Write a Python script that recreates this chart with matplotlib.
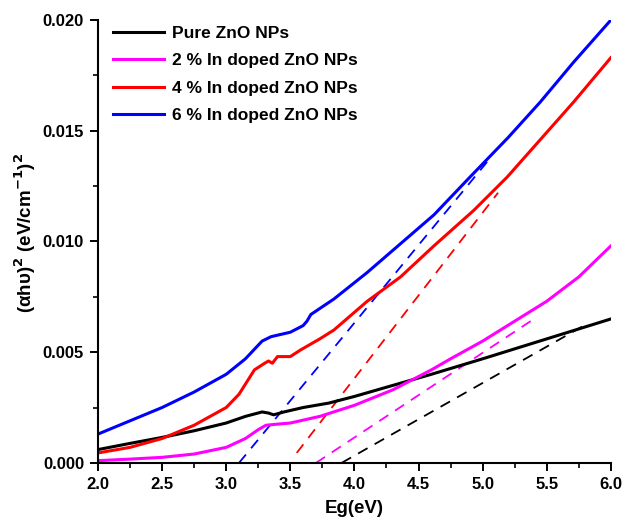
import matplotlib
matplotlib.use("Agg")
import matplotlib.pyplot as plt
from matplotlib.ticker import MultipleLocator, FormatStrFormatter

plt.rcParams['font.family'] = ['Liberation Sans', 'DejaVu Sans']
plt.rcParams['font.weight'] = 'bold'
plt.rcParams['mathtext.default'] = 'bf'

# ---- data ----
labels = ["Pure ZnO NPs", "2 % In doped ZnO NPs", "4 % In doped ZnO NPs", "6 % In doped ZnO NPs"]
colors = ["#000000", "#ff00ff", "#ff0000", "#0000ff"]

pure_x = [2.0, 2.25, 2.5, 2.75, 3.0, 3.15, 3.28, 3.33, 3.37, 3.45, 3.6, 3.8, 4.0, 4.36, 4.6, 5.0, 5.5, 6.0]
pure_y = [0.0006, 0.00088, 0.00115, 0.00145, 0.0018, 0.0021, 0.0023, 0.00225, 0.00217, 0.0023, 0.0025, 0.0027, 0.0030, 0.0036, 0.0040, 0.0047, 0.0056, 0.0065]

in2_x = [2.0, 2.25, 2.5, 2.75, 3.0, 3.15, 3.25, 3.31, 3.4, 3.5, 3.73, 4.0, 4.3, 4.6, 4.75, 5.0, 5.25, 5.5, 5.75, 6.0]
in2_y = [0.0001, 0.00017, 0.00025, 0.0004, 0.0007, 0.0011, 0.0015, 0.0017, 0.00175, 0.0018, 0.0021, 0.0026, 0.0033, 0.0042, 0.0047, 0.0055, 0.0064, 0.0073, 0.0084, 0.0098]

in4_x = [2.0, 2.25, 2.5, 2.75, 3.0, 3.1, 3.22, 3.3, 3.33, 3.36, 3.4, 3.5, 3.58, 3.73, 3.84, 4.1, 4.36, 4.62, 4.93, 5.19, 5.45, 5.71, 6.0]
in4_y = [0.00045, 0.0007, 0.0011, 0.0017, 0.0025, 0.0031, 0.0042, 0.0045, 0.0046, 0.0045, 0.0048, 0.0048, 0.0051, 0.0056, 0.0060, 0.0073, 0.0084, 0.0098, 0.0114, 0.0129, 0.0146, 0.0163, 0.0183]

in6_x = [2.0, 2.25, 2.5, 2.75, 3.0, 3.15, 3.28, 3.35, 3.5, 3.6, 3.63, 3.66, 3.84, 4.1, 4.36, 4.62, 4.9, 5.2, 5.45, 5.71, 6.0]
in6_y = [0.0013, 0.0019, 0.0025, 0.0032, 0.0040, 0.0047, 0.0055, 0.0057, 0.0059, 0.0062, 0.0064, 0.0067, 0.0074, 0.0086, 0.0099, 0.0112, 0.0129, 0.0147, 0.0163, 0.0181, 0.0200]

# linear-fit (tangent) lines: [start, end]
pure_fit_x = [3.9, 5.82]
pure_fit_y = [0.0, 0.0063]
in2_fit_x = [3.7, 5.4]
in2_fit_y = [0.0, 0.0065]
in4_fit_x = [3.55, 5.12]
in4_fit_y = [0.00045, 0.0122]
in6_fit_x = [3.1, 5.05]
in6_fit_y = [0.0, 0.0137]

xticks = [2.0, 2.5, 3.0, 3.5, 4.0, 4.5, 5.0, 5.5, 6.0]
yticks = [0.000, 0.005, 0.010, 0.015, 0.020]

# ---- plot ----
fig = plt.figure(figsize=(6.24, 5.26), dpi=100)
ax = fig.add_axes([0.157, 0.12, 0.822, 0.842])

series = [(pure_x, pure_y), (in2_x, in2_y), (in4_x, in4_y), (in6_x, in6_y)]
fits = [(pure_fit_x, pure_fit_y), (in2_fit_x, in2_fit_y), (in4_fit_x, in4_fit_y), (in6_fit_x, in6_fit_y)]

for (fx, fy), c in zip(fits, colors):
    ax.plot(fx, fy, color=c, lw=1.3, ls=(0, (6, 4.5)))
for (sx, sy), c, lab in zip(series, colors, labels):
    ax.plot(sx, sy, color=c, lw=2.2, label=lab, solid_joinstyle='round')

ax.set_xlim(2.0, 6.0)
ax.set_ylim(0.0, 0.020)
ax.set_xticks(xticks)
ax.set_yticks(yticks)
ax.xaxis.set_minor_locator(MultipleLocator(0.25))
ax.yaxis.set_minor_locator(MultipleLocator(0.0025))
ax.xaxis.set_major_formatter(FormatStrFormatter('%.1f'))
ax.yaxis.set_major_formatter(FormatStrFormatter('%.3f'))
ax.tick_params(which='major', direction='out', length=6, width=1.4, labelsize=12, pad=4)
ax.tick_params(which='minor', direction='out', length=3.5, width=1.2)
for lbl in ax.get_xticklabels() + ax.get_yticklabels():
    lbl.set_fontweight('bold')

for s in ['top', 'right']:
    ax.spines[s].set_visible(False)
for s in ['left', 'bottom']:
    ax.spines[s].set_linewidth(1.5)

ax.set_xlabel('Eg(eV)', fontsize=13.5, fontweight='bold', labelpad=6)
ax.set_ylabel('(αhυ)$^{2}$ (eV/cm$^{-1}$)$^{2}$', fontsize=13.5, fontweight='bold')
ax.yaxis.set_label_coords(-0.117, 0.52)

leg = ax.legend(loc='upper left', bbox_to_anchor=(0.006, 1.015), frameon=False,
                prop={'weight': 'bold', 'size': 12.5}, handlelength=2.9,
                labelspacing=0.71, handletextpad=0.46, borderaxespad=0.3)
for line in leg.get_lines():
    line.set_linewidth(2.2)

fig.savefig('out.png', dpi=100)
